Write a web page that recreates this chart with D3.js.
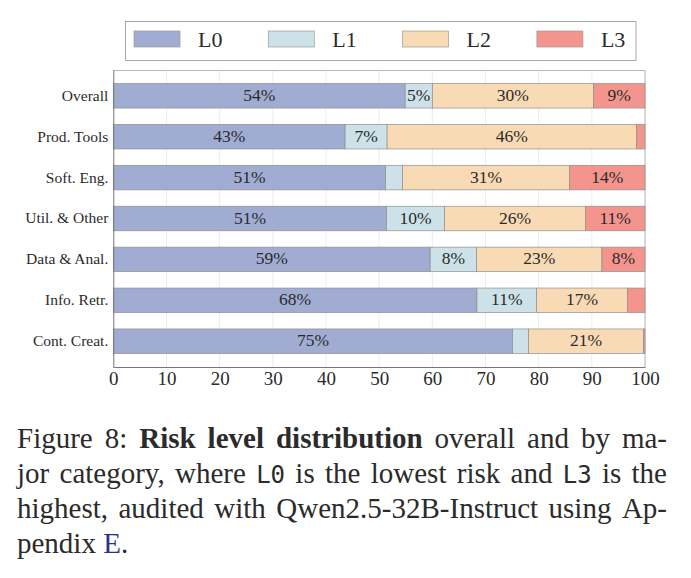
<!DOCTYPE html>
<html>
<head>
<meta charset="utf-8">
<script src="https://cdn.jsdelivr.net/npm/d3@7"></script>
<style>
  body { margin: 0; background: #fff; }
  text { font-family: "Liberation Serif", "Times New Roman", serif; fill: #2b2b2b; }
</style>
</head>
<body>
<svg id="chart" width="691" height="578"></svg>
<script>
// data (percent of servers per risk level)
let categories = ["Overall", "Prod. Tools", "Soft. Eng.", "Util. & Other", "Data & Anal.", "Info. Retr.", "Cont. Creat."]
let levels = ["L0", "L1", "L2", "L3"]
let L0 = [54.9, 43.6, 51.2, 51.4, 59.6, 68.4, 75.1]
let L1 = [5.1, 7.9, 3.2, 10.9, 8.7, 11.2, 3.0]
let L2 = [30.3, 46.9, 31.4, 26.5, 23.6, 17.1, 21.6]
let L3 = [9.7, 1.6, 14.2, 11.2, 8.1, 3.3, 0.3]
let xTicks = [0, 10, 20, 30, 40, 50, 60, 70, 80, 90, 100]
let colors = ["#a0acd2", "#cde2e8", "#f8dab4", "#f3958d"]

let rows = categories.map((c, i) => ({ cat: c, L0: L0[i], L1: L1[i], L2: L2[i], L3: L3[i] }))

let svg = d3.select("#chart")
svg.append("rect").attr("width", 691).attr("height", 578).attr("fill", "#fff")

let x = d3.scaleLinear().domain([0, 100]).range([113.3, 645])
let y = d3.scaleBand().domain(categories).range([70, 367]).paddingInner(0.4).paddingOuter(0.33)
let color = d3.scaleOrdinal().domain(levels).range(colors)

// grid
svg.append("g").selectAll("line")
  .data(xTicks.slice(1, -1)).enter()
  .append("line")
  .attr("x1", d => x(d)).attr("x2", d => x(d))
  .attr("y1", 70).attr("y2", 367)
  .attr("stroke", "#ececec").attr("stroke-width", 1)

// frame: top and right light, left and bottom darker
svg.append("line").attr("x1", x(0)).attr("x2", x(100)).attr("y1", 70.5).attr("y2", 70.5).attr("stroke", "#b8b8b8")
svg.append("line").attr("x1", x(100)).attr("x2", x(100)).attr("y1", 70).attr("y2", 367).attr("stroke", "#b0b0b0")

let stack = d3.stack().keys(levels)(rows)

let layers = svg.append("g").selectAll("g")
  .data(stack).enter()
  .append("g")
  .attr("fill", d => color(d.key))

layers.selectAll("rect")
  .data(d => d).enter()
  .append("rect")
  .attr("x", d => x(d[0]))
  .attr("y", d => y(d.data.cat))
  .attr("width", d => x(d[1]) - x(d[0]))
  .attr("height", y.bandwidth())
  .attr("stroke", "#8f8f8f")
  .attr("stroke-width", 0.7)

// percent labels (truncated), only where the segment is wide enough
layers.selectAll("text")
  .data(d => d.filter(s => s[1] - s[0] >= 4)).enter()
  .append("text")
  .attr("x", d => (x(d[0]) + x(d[1])) / 2)
  .attr("y", d => y(d.data.cat) + y.bandwidth() / 2 + 5)
  .attr("text-anchor", "middle")
  .attr("font-size", 17.5)
  .attr("fill", "#333")
  .text(d => Math.floor(d[1] - d[0]) + "%")

// axes
let xAxis = svg.append("g")
  .attr("transform", "translate(0,367)")
  .call(d3.axisBottom(x).tickValues(xTicks).tickSize(0).tickPadding(5))
xAxis.select(".domain").attr("stroke", "#777")
xAxis.selectAll("text").attr("font-size", 19).attr("font-family", "Liberation Serif").attr("fill", "#2b2b2b")

let yAxis = svg.append("g")
  .attr("transform", `translate(${x(0)},0)`)
  .call(d3.axisLeft(y).tickSize(0).tickPadding(5))
yAxis.select(".domain").attr("stroke", "#777")
yAxis.selectAll("text").attr("font-size", 15.5).attr("font-family", "Liberation Serif").attr("fill", "#2b2b2b")

// legend
let legend = svg.append("g")
legend.append("rect")
  .attr("x", 125.5).attr("y", 21.5).attr("width", 510.5).attr("height", 39)
  .attr("fill", "#fff").attr("stroke", "#a8a8a8")
let items = legend.selectAll("g.item")
  .data(levels).enter()
  .append("g")
  .attr("transform", (d, i) => `translate(${134 + i * 134.3},0)`)
items.append("rect")
  .attr("x", 0).attr("y", 31).attr("width", 46).attr("height", 16)
  .attr("fill", d => color(d)).attr("stroke", "#9a9a9a").attr("stroke-width", 0.7)
items.append("text")
  .attr("x", 64).attr("y", 47)
  .attr("font-size", 22)
  .text(d => d)

// caption, justified between two margins
let capLeft = 17, capRight = 667, capSize = 29
let serif = { family: "Liberation Serif" }
let mono = { family: "DejaVu Sans Mono", size: 24 }
let bold = { family: "Liberation Serif", weight: "bold" }
let capLines = [
  { just: true, baseline: 448, words: [
    [["Figure", serif]], [["8:", serif]],
    [["Risk", bold]], [["level", bold]], [["distribution", bold]],
    [["overall", serif]], [["and", serif]], [["by", serif]], [["ma-", serif]]] },
  { just: true, baseline: 483, words: [
    [["jor", serif]], [["category,", serif]], [["where", serif]], [["L0", mono]],
    [["is", serif]], [["the", serif]], [["lowest", serif]], [["risk", serif]],
    [["and", serif]], [["L3", mono]], [["is", serif]], [["the", serif]]] },
  { just: true, baseline: 518, words: [
    [["highest,", serif]], [["audited", serif]], [["with", serif]],
    [["Qwen2.5-32B-Instruct", serif]], [["using", serif]], [["Ap-", serif]]] },
  { just: false, baseline: 553, words: [
    [["pendix", serif]], [["E", { family: "Liberation Serif", fill: "#2e3192" }], [".", serif]]] }
]

let cap = svg.append("g")
capLines.forEach(line => {
  let nodes = line.words.map(runs => {
    let t = cap.append("text").attr("y", line.baseline).attr("font-size", capSize)
    runs.forEach(([s, st]) => {
      t.append("tspan")
        .attr("font-family", st.family)
        .attr("font-weight", st.weight || "normal")
        .attr("font-size", st.size || capSize)
        .style("fill", st.fill || "#2b2b2b")
        .text(s)
    })
    return t
  })
  let widths = nodes.map(t => t.node().getComputedTextLength())
  let total = d3.sum(widths)
  let gap = line.just ? (capRight - capLeft - total) / (nodes.length - 1) : capSize * 0.25
  let pos = capLeft
  nodes.forEach((t, i) => {
    t.attr("x", pos)
    pos += widths[i] + gap
  })
})
</script>
</body>
</html>
